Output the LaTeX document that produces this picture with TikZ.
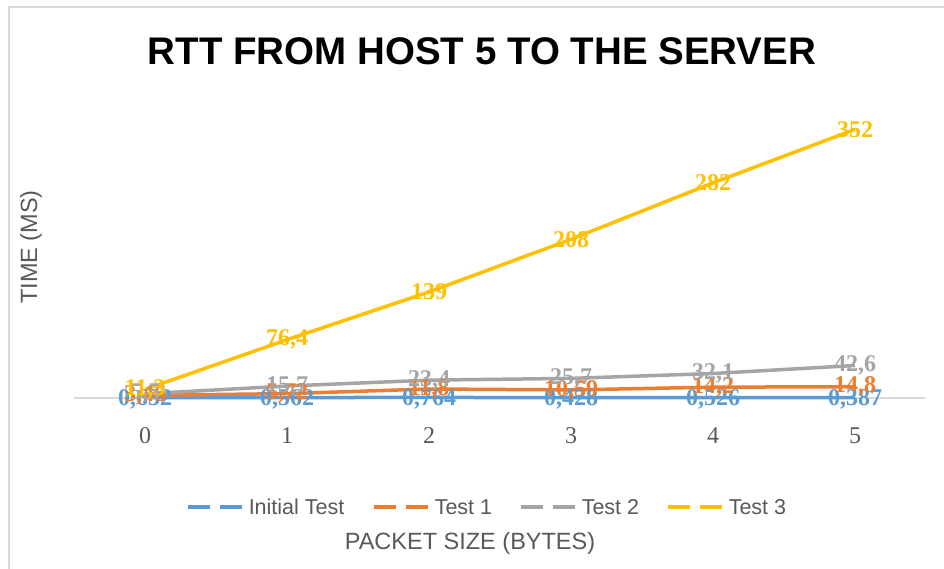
\documentclass[tikz,border=0pt]{standalone}
\usepackage{fontspec}
\setmainfont{Liberation Serif}
\setsansfont{Liberation Sans}
\usepackage{tikz}
\usetikzlibrary{positioning}
\usepackage{xcolor}

\definecolor{serA}{HTML}{5B9BD5}
\definecolor{serB}{HTML}{ED7D31}
\definecolor{serC}{HTML}{A5A5A5}
\definecolor{serD}{HTML}{FFC000}
\definecolor{axisgray}{HTML}{D9D9D9}
\definecolor{textgray}{HTML}{595959}

\tikzset{
  serie/.style={line width=3.5pt, line join=round},
  vlabel/.style={font=\fontsize{24}{24}\selectfont\bfseries, inner sep=0pt},
  ticklabel/.style={font=\fontsize{24}{24}\selectfont, text=textgray},
  axtitle/.style={font=\sffamily\fontsize{23.5}{23.5}\selectfont, text=textgray},
  legtext/.style={font=\sffamily\fontsize{21.5}{21.5}\selectfont, text=textgray, inner sep=0pt},
  legdash/.style={line width=3.5pt, dash pattern=on 22pt off 10pt on 22pt}
}

\begin{document}
\begin{tikzpicture}[x=1pt, y=1pt]
    \fill[white] (0,0) rectangle (944,-569);
    \useasboundingbox (0,0) rectangle (944,-569);
    % chart frame
    \draw[axisgray, line width=2pt] (9,-569) -- (9,-7) -- (944,-7);

    \node[font=\sffamily\bfseries\fontsize{38.5}{38.5}\selectfont] (title) at (482,-51) {RTT FROM HOST 5 TO THE SERVER};
    \node[axtitle, rotate=90] (ytitle) at (31,-247) {TIME (MS)};
    \node[axtitle] (xtitle) at (470,-543) {PACKET SIZE (BYTES)};

    % category axis
    \draw[axisgray, line width=1.5pt] (74,-398) -- (925,-398);
    \foreach \i in {0,...,5}
        \node[ticklabel] (tick\i) at (145+142*\i,-436) {\i};

    % series
    \begin{scope}[shift={(145pt,-398pt)}, x=142pt, y=0.763pt]
    \draw[serie, serA] plot coordinates {(0,0.632) (1,0.562) (2,0.764) (3,0.428) (4,0.526) (5,0.387)};
    \draw[serie, serB] plot coordinates {(0,3.46) (1,5.72) (2,11.8) (3,10.59) (4,14.2) (5,14.8)};
    \draw[serie, serC] plot coordinates {(0,5.5) (1,15.7) (2,23.4) (3,25.7) (4,32.1) (5,42.6)};
    \draw[serie, serD] plot coordinates {(0,11.3) (1,76.4) (2,139) (3,208) (4,282) (5,352)};

    \foreach \i/\v/\t in {0/0.632/{0,632}, 1/0.562/{0,562}, 2/0.764/{0,764}, 3/0.428/{0,428}, 4/0.526/{0,526}, 5/0.387/{0,387}}
        \node[vlabel, text=serA] (lblA\i) at (\i,\v-2) {\t};
    \foreach \i/\v/\t in {0/3.46/{3,46}, 1/5.72/{5,72}, 2/11.8/{11,8}, 3/10.59/{10,59}, 4/14.2/{14,2}, 5/14.8/{14,8}}
        \node[vlabel, text=serB] (lblB\i) at (\i,\v) {\t};
    \foreach \i/\v/\t in {0/5.5/{5,5}, 1/15.7/{15,7}, 2/23.4/{23,4}, 3/25.7/{25,7}, 4/32.1/{32,1}, 5/42.6/{42,6}}
        \node[vlabel, text=serC] (lblC\i) at (\i,\v) {\t};
    \foreach \i/\v/\t in {0/11.3/{11,3}, 1/76.4/{76,4}, 2/139/{139}, 3/208/{208}, 4/282/{282}, 5/352/{352}}
        \node[vlabel, text=serD] (lblD\i) at (\i,\v) {\t};
    \end{scope}

    % legend
    \draw[legdash, serA] (188,-507) -- (242,-507) node[legtext, right=5pt] (legA) {Initial Test};
    \draw[legdash, serB] (374,-507) -- (428,-507) node[legtext, right=5pt] (legB) {Test 1};
    \draw[legdash, serC] (521,-507) -- (575,-507) node[legtext, right=5pt] (legC) {Test 2};
    \draw[legdash, serD] (668,-507) -- (722,-507) node[legtext, right=5pt] (legD) {Test 3};
\end{tikzpicture}
\end{document}
